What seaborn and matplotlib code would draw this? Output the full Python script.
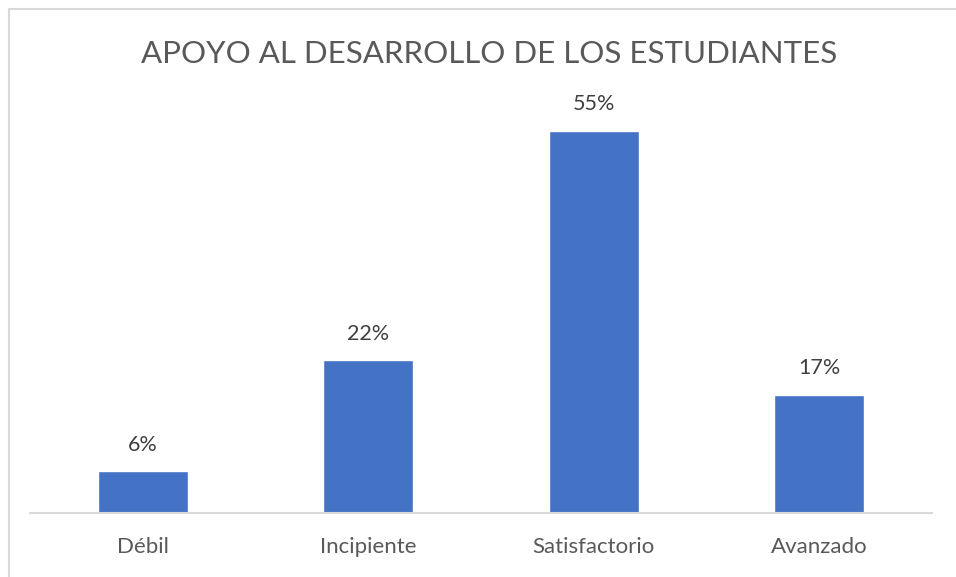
import numpy as np
import pandas as pd
import matplotlib
matplotlib.use("Agg")
import matplotlib.pyplot as plt
import seaborn as sns

# data
categorias = ["Débil", "Incipiente", "Satisfactorio", "Avanzado"]
porcentajes = [6, 22, 55, 17]
etiquetas = ["6%", "22%", "55%", "17%"]

df = pd.DataFrame({"nivel": categorias, "pct": porcentajes})

sns.set_style("white")
plt.rcParams['font.family'] = ['Lato', 'DejaVu Sans']

fig = plt.figure(figsize=(9.56, 5.77), dpi=100)
ax = fig.add_axes([30/956, 64/577, 902/956, 417/577])

sns.barplot(data=df, x="nivel", y="pct", color="#4472C4", width=0.4,
            saturation=1, ax=ax)

ax.set_xlim(-0.5, 3.5)
ax.set_ylim(0, 60)
ax.set_yticks([])
ax.set_xlabel("")
ax.set_ylabel("")
for s in ["top", "right", "left"]:
    ax.spines[s].set_visible(False)
ax.spines["bottom"].set_color("#d9d9d9")
ax.spines["bottom"].set_linewidth(1.5)
ax.tick_params(axis="x", length=0, pad=17, labelsize=16, labelcolor="#595959")

#data labels on top of bars
for i, (v, t) in enumerate(zip(porcentajes, etiquetas)):
    ax.annotate(t, (i, v), xytext=(0, 19), textcoords="offset points",
                ha="center", va="center", fontsize=15.5, color="#404040")

fig.text(489/956, 1 - 54/577, "APOYO AL DESARROLLO DE LOS ESTUDIANTES",
         ha="center", va="center", fontsize=22.5, color="#595959")

# chart border (left and top only visible)
fig.add_artist(plt.Line2D([9/956, 9/956], [0, 1 - 9/577], transform=fig.transFigure,
                          color="#d9d9d9", lw=1.5))
fig.add_artist(plt.Line2D([9/956, 1], [1 - 9/577, 1 - 9/577], transform=fig.transFigure,
                          color="#d9d9d9", lw=1.5))

fig.savefig("out.png", dpi=100)
